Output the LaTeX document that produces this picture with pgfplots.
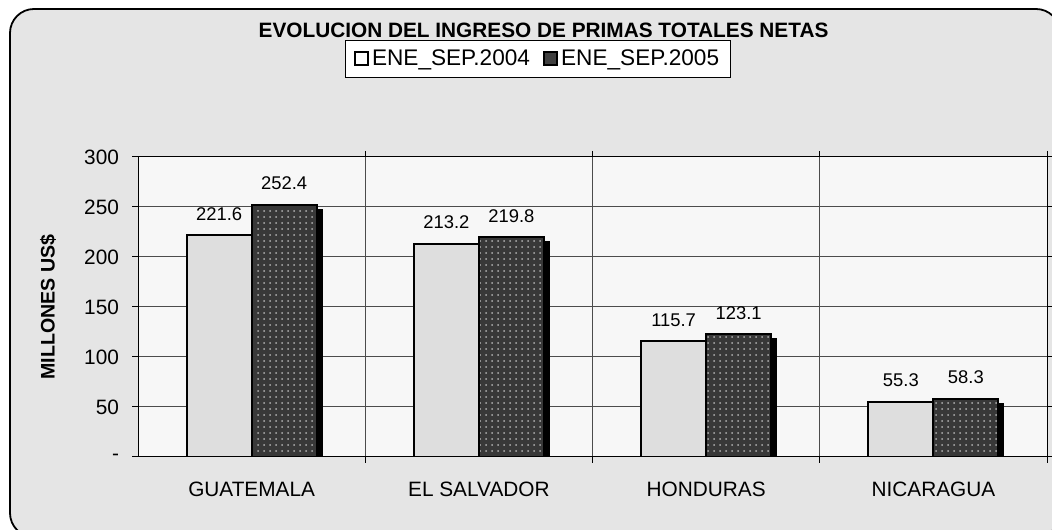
\documentclass[border=0pt]{standalone}
\usepackage{fontspec}
\setmainfont{Liberation Sans}
\usepackage{pgfplots}
\pgfplotsset{compat=1.18}
\usetikzlibrary{shadows,patterns}
\begin{document}
\begin{tikzpicture}
\useasboundingbox (0,0) rectangle (526pt,264.5pt);
\begin{scope}
\clip (0,0) rectangle (526pt,264.5pt);
\draw[line width=0.9pt, fill=black!10, rounded corners=12pt] (5pt,-4pt) rectangle (530pt,260pt);
\end{scope}
\node[font=\fontsize{10.4}{12.5}\selectfont\bfseries, anchor=center] at (271.75pt,249.5pt) {EVOLUCION DEL INGRESO DE PRIMAS TOTALES NETAS};
\begin{axis}[
  at={(69pt,36pt)}, anchor=south west,
  scale only axis, width=454.5pt, height=150pt,
  font=\fontsize{10.4}{12.5}\selectfont,
  /pgf/number format/assume math mode=true,
  axis background/.style={fill=black!3},
  axis line style={black, line width=0.5pt},
  ybar=0pt, bar width=32.5pt,
  xmin=-0.5, xmax=3.5, ymin=0, ymax=300,
  xtick={0,1,2,3},
  xticklabels={GUATEMALA,EL SALVADOR,HONDURAS,NICARAGUA},
  major x tick style={draw=none},
  minor xtick={0.5,1.5,2.5,3.5},
  xminorgrids,
  minor x grid style={black!70, line width=0.5pt},
  minor tick length=3pt,
  tick align=outside,
  major tick length=3pt,
  ytick={0,50,100,150,200,250,300},
  yticklabels={-,50,100,150,200,250,300},
  ymajorgrids,
  major y grid style={black!70, line width=0.5pt},
  tick style={black, line width=0.5pt},
  xticklabel style={yshift=-6pt},
  yticklabel style={xshift=-3pt},
  ylabel={\bfseries MILLONES US\$},
  every axis y label/.style={at={(rel axis cs:-0.099,0.5)}, rotate=90, anchor=center, font=\fontsize{9.8}{12}\selectfont},
  nodes near coords,
  nodes near coords style={font=\fontsize{9.2}{11}\selectfont, yshift=3.5pt, /pgf/number format/.cd, fixed, precision=1},
  legend columns=2,
  legend style={at={(rel axis cs:0.44,1.327)}, anchor=center, draw=black, fill=white,
    line width=0.5pt, inner xsep=4pt, inner ysep=2.5pt,
    font=\fontsize{11.3}{13.5}\selectfont,
    nodes={inner xsep=1.5pt, inner ysep=2pt},
    /tikz/every even column/.append style={column sep=5pt}},
  myshadow/.style={drop shadow={shadow xshift=2.5pt, shadow yshift=-2.5pt, fill=black, opacity=1}},
  clip=true,
]
\addplot[draw=black, line width=1pt, fill=black!13, myshadow,
  legend image code/.code={\pgfsetlinewidth{1pt}\pgfsetstrokecolor{black}\pgfsetfillcolor{white}\pgfpathrectanglecorners{\pgfpoint{0pt}{-3.3pt}}{\pgfpoint{6.6pt}{3.3pt}}\pgfusepath{fill,stroke}}]
  coordinates {(0,221.6) (1,213.2) (2,115.7) (3,55.3)};
\addlegendentry{ENE\_SEP.2004}
\addplot[draw=black, line width=1pt, fill=black!78, myshadow, postaction={pattern=dots, pattern color=white!70!black},
  legend image code/.code={\pgfsetlinewidth{1pt}\pgfsetstrokecolor{black}\pgfsetfillcolor{black!75}\pgfpathrectanglecorners{\pgfpoint{0pt}{-3.3pt}}{\pgfpoint{6.6pt}{3.3pt}}\pgfusepath{fill,stroke}}]
  coordinates {(0,252.4) (1,219.8) (2,123.1) (3,58.3)};
\addlegendentry{ENE\_SEP.2005}
\end{axis}
\end{tikzpicture}
\end{document}
